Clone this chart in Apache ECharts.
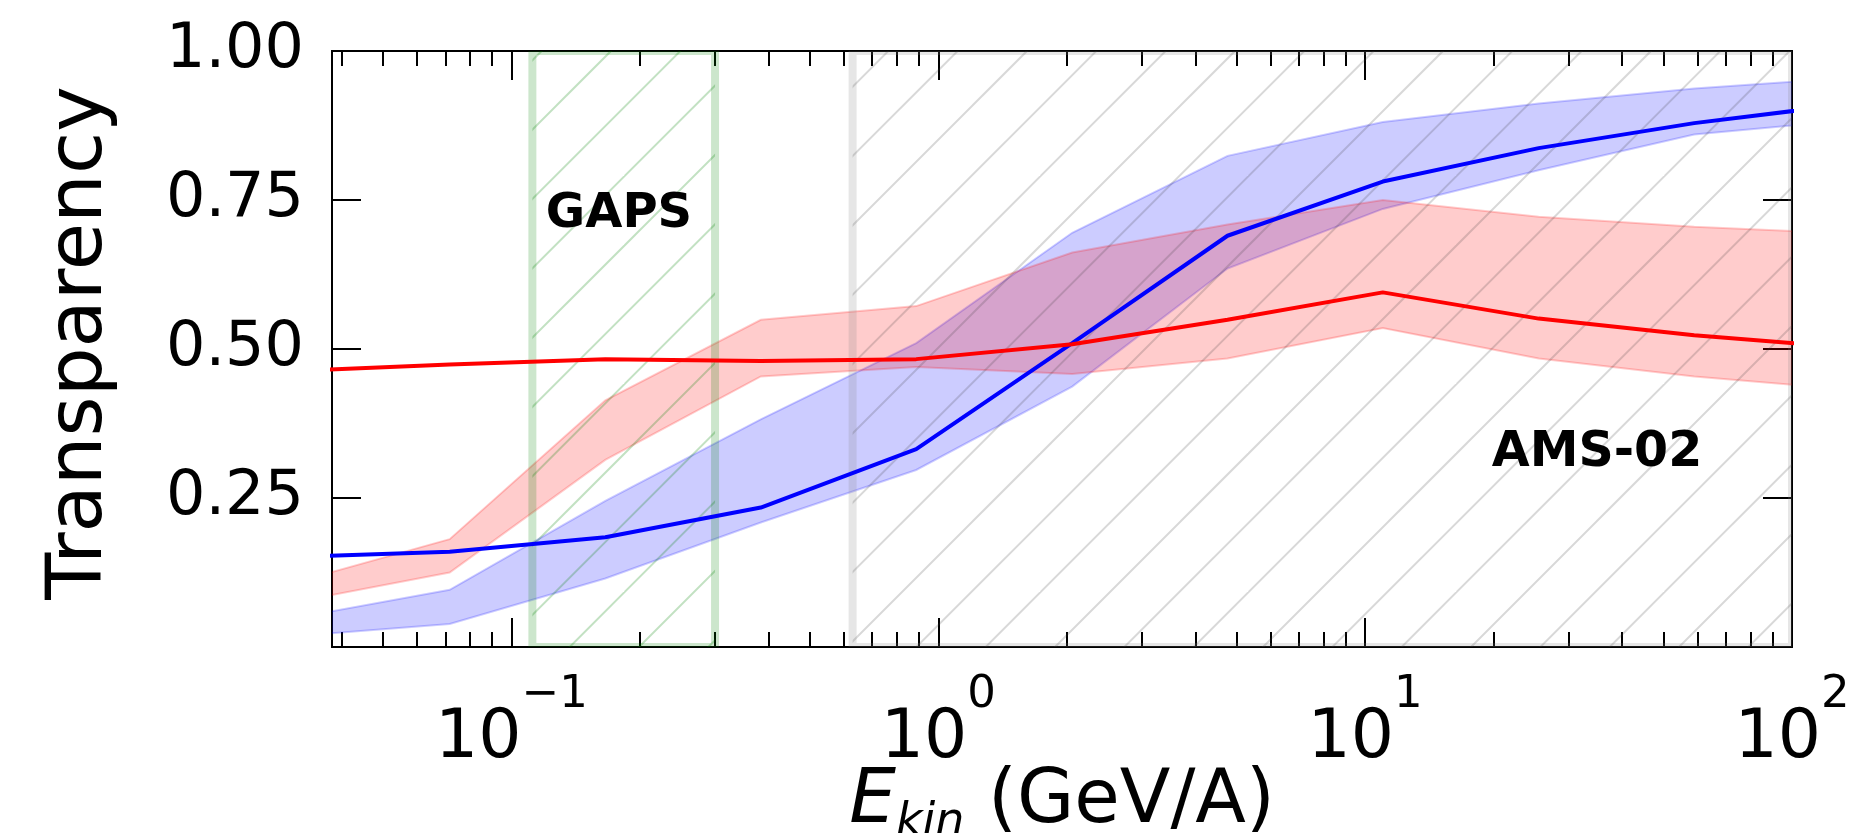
<!DOCTYPE html>
<html>
<head>
<meta charset="utf-8">
<script src="https://cdn.jsdelivr.net/npm/echarts@6/dist/echarts.min.js"></script>
<style>
  html, body { margin: 0; padding: 0; background: #fff; }
  #chart { width: 1856px; height: 833px; }
</style>
</head>
<body>
<div id="chart"></div>
<script>
// kinetic energy per nucleon (GeV/A) of the sampled points
const energies = [0.031, 0.0717, 0.166, 0.384, 0.888, 2.06, 4.76, 11.0, 25.5, 59.0, 136.5];

// red curve and its band
const redMid = [0.463, 0.474, 0.483, 0.480, 0.483, 0.508, 0.549, 0.595, 0.551, 0.523, 0.502];
const redLow = [0.075, 0.125, 0.314, 0.454, 0.470, 0.458, 0.484, 0.535, 0.484, 0.454, 0.432];
const redHigh = [0.108, 0.181, 0.414, 0.549, 0.572, 0.662, 0.709, 0.750, 0.722, 0.705, 0.694];

// blue curve and its band
const blueMid = [0.151, 0.160, 0.184, 0.234, 0.332, 0.510, 0.690, 0.781, 0.837, 0.879, 0.911];
const blueLow = [0.018, 0.0386, 0.115, 0.209, 0.297, 0.437, 0.635, 0.735, 0.800, 0.860, 0.884];
const blueHigh = [0.0485, 0.096, 0.245, 0.382, 0.510, 0.695, 0.824, 0.881, 0.912, 0.937, 0.955];

// experiment ranges (GeV/A)
const gapsRange = [0.112, 0.3];
const amsRange = [0.63, 100];

// axes
const xMin = 0.038;
const xMax = 100;
const xMajor = [0.1, 1, 10, 100];
const xMinorSteps = [2, 3, 4, 5, 6, 7, 8, 9];
const yTicks = [0.25, 0.5, 0.75, 1.0];

const FONT = '"DejaVu Sans", sans-serif';
const lg = Math.log10;

const xMinor = [];
[0.01, 0.1, 1, 10].forEach(function (d) {
  xMinorSteps.forEach(function (s) {
    const v = d * s;
    if (v >= xMin && v <= xMax) xMinor.push(lg(v));
  });
});

// hatch '/' pattern, anchored to the canvas origin
function hatch(color) {
  const size = 208;
  const step = size / 3;
  const phase = 38;
  const c = document.createElement('canvas');
  c.width = c.height = size;
  const ctx = c.getContext('2d');
  ctx.strokeStyle = color;
  ctx.lineWidth = 2;
  for (let k = -1; k <= 7; k++) {
    const s = phase + k * step;
    ctx.beginPath();
    ctx.moveTo(s + 10, -10);
    ctx.lineTo(-10, s + 10);
    ctx.stroke();
  }
  return { type: 'pattern', image: c, repeat: 'repeat' };
}

function regionItem(fill, edge) {
  return function (params, api) {
    const a = api.coord([api.value(0), 0]);
    const b = api.coord([api.value(1), 1]);
    const shape = { x: a[0], y: b[1], width: b[0] - a[0], height: a[1] - b[1] };
    return {
      type: 'group',
      children: [
        { type: 'rect', shape: shape, style: { fill: fill } },
        { type: 'rect', shape: shape, style: { fill: 'none', stroke: edge, lineWidth: 8 } }
      ]
    };
  };
}

function bandItem(low, high, fill) {
  return function (params, api) {
    if (params.dataIndex !== 0) return null;
    const pts = [];
    for (let i = 0; i < energies.length; i++) pts.push(api.coord([lg(energies[i]), high[i]]));
    for (let i = energies.length - 1; i >= 0; i--) pts.push(api.coord([lg(energies[i]), low[i]]));
    return { type: 'polygon', shape: { points: pts }, style: { fill: fill, stroke: fill, lineWidth: 2 } };
  };
}

function bandData(low, high) {
  return energies.map(function (e, i) { return [lg(e), low[i], high[i]]; });
}

function lineData(vals) {
  return energies.map(function (e, i) { return [lg(e), vals[i]]; });
}

function xAxisDef(pos, ticks, len, labels) {
  return {
    type: 'value',
    position: pos,
    min: lg(xMin),
    max: lg(xMax),
    axisLine: { show: true, onZero: false, lineStyle: { color: '#000', width: 2 } },
    axisTick: { show: true, inside: true, length: len, customValues: ticks, lineStyle: { color: '#000', width: 2 } },
    axisLabel: labels ? {
      show: true,
      customValues: xMajor.map(lg),
      margin: 26,
      formatter: function (v) {
        const p = Math.round(v);
        return '{b|10}{s|' + (p < 0 ? '\u2212' + (-p) : p) + '}';
      },
      rich: {
        b: { fontFamily: FONT, fontSize: 68, color: '#000', lineHeight: 100, verticalAlign: 'bottom' },
        s: { fontFamily: FONT, fontSize: 45, color: '#000', lineHeight: 20, verticalAlign: 'top' }
      }
    } : { show: false },
    splitLine: { show: false }
  };
}

function yAxisDef(pos, labels) {
  return {
    type: 'value',
    position: pos,
    min: 0,
    max: 1,
    axisLine: { show: true, onZero: false, lineStyle: { color: '#000', width: 2 } },
    axisTick: { show: true, inside: true, length: 29, customValues: yTicks, lineStyle: { color: '#000', width: 2 } },
    axisLabel: labels ? {
      show: true,
      customValues: yTicks,
      margin: 28,
      formatter: function (v) { return v.toFixed(2); },
      fontFamily: FONT,
      fontSize: 62,
      color: '#000'
    } : { show: false },
    splitLine: { show: false }
  };
}

const chart = echarts.init(document.getElementById('chart'), null, { renderer: 'canvas' });

chart.setOption({
  animation: false,
  backgroundColor: '#fff',
  grid: { left: 332, top: 51, width: 1460, height: 596, outerBoundsMode: 'none' },
  xAxis: [
    xAxisDef('bottom', xMajor.map(lg), 29, true),
    xAxisDef('bottom', xMinor, 15, false),
    xAxisDef('top', xMajor.map(lg), 29, false),
    xAxisDef('top', xMinor, 15, false)
  ],
  yAxis: [yAxisDef('left', true), yAxisDef('right', false)],
  series: [
    {
      type: 'custom', name: 'blue band', clip: true, silent: true, z: 1,
      data: bandData(blueLow, blueHigh), encode: { x: 0, y: [1, 2] },
      renderItem: bandItem(blueLow, blueHigh, 'rgba(0,0,255,0.2)')
    },
    {
      type: 'custom', name: 'red band', clip: true, silent: true, z: 1,
      data: bandData(redLow, redHigh), encode: { x: 0, y: [1, 2] },
      renderItem: bandItem(redLow, redHigh, 'rgba(255,0,0,0.2)')
    },
    {
      type: 'custom', name: 'GAPS', clip: true, silent: true, z: 2,
      data: [[lg(gapsRange[0]), lg(gapsRange[1])]], encode: { x: [0, 1] },
      renderItem: regionItem(hatch('rgba(0,128,0,0.24)'), 'rgba(0,128,0,0.2)')
    },
    {
      type: 'custom', name: 'AMS-02', clip: true, silent: true, z: 2,
      data: [[lg(amsRange[0]), lg(amsRange[1])]], encode: { x: [0, 1] },
      renderItem: regionItem(hatch('rgba(60,60,60,0.2)'), 'rgba(128,128,128,0.2)')
    },
    {
      type: 'line', name: 'blue', data: lineData(blueMid), symbol: 'none', z: 5, silent: true,
      lineStyle: { color: '#0000ff', width: 4 }
    },
    {
      type: 'line', name: 'red', data: lineData(redMid), symbol: 'none', z: 5, silent: true,
      lineStyle: { color: '#ff0000', width: 4 }
    }
  ],
  graphic: [
    {
      type: 'text', x: 619, y: 215, z: 10,
      style: { text: 'GAPS', fontFamily: FONT, fontWeight: 'bold', fontSize: 48, fill: '#000', align: 'center', verticalAlign: 'middle' }
    },
    {
      type: 'text', x: 1597, y: 453, z: 10,
      style: { text: 'AMS-02', fontFamily: FONT, fontWeight: 'bold', fontSize: 49, fill: '#000', align: 'center', verticalAlign: 'middle' }
    },
    {
      type: 'text', x: 81, y: 343, rotation: Math.PI / 2, z: 10,
      style: { text: 'Transparency', fontFamily: FONT, fontSize: 77, fill: '#000', align: 'center', verticalAlign: 'middle' }
    },
    {
      type: 'text', x: 1062, y: 806, z: 10,
      style: {
        text: '{i|E}{k|kin}{n| (GeV/A)}',
        align: 'center', verticalAlign: 'middle',
        rich: {
          i: { fontFamily: FONT, fontStyle: 'italic', fontSize: 74, fill: '#000', lineHeight: 80, verticalAlign: 'top' },
          k: { fontFamily: FONT, fontStyle: 'italic', fontSize: 46, fill: '#000', lineHeight: 24, verticalAlign: 'bottom' },
          n: { fontFamily: FONT, fontSize: 74, fill: '#000', lineHeight: 80, verticalAlign: 'top' }
        }
      }
    }
  ]
});
</script>
</body>
</html>
